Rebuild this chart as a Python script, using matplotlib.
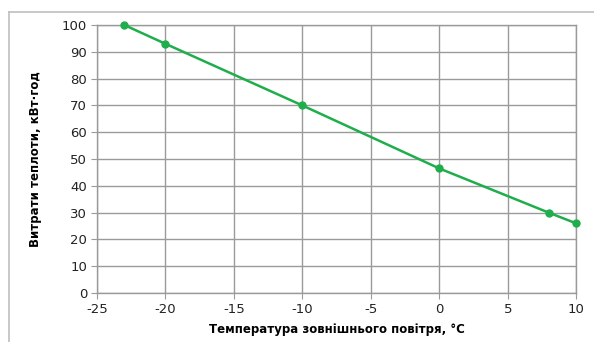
import matplotlib
matplotlib.use("Agg")
import matplotlib.pyplot as plt
from matplotlib.lines import Line2D

temperature = [-23, -20, -10, 0, 8, 10]
heat_use = [100, 93, 70, 46.5, 30, 26]
x_ticks = [-25, -20, -15, -10, -5, 0, 5, 10]
y_ticks = [0, 10, 20, 30, 40, 50, 60, 70, 80, 90, 100]
x_label = "Температура зовнішнього повітря, °C"
y_label = "Витрати теплоти, кВт·год"

fig = plt.figure(figsize=(5.94, 3.42), dpi=100)
ax = fig.add_axes([0.163, 0.143, 0.807, 0.784])

ax.plot(temperature, heat_use, color="#1fae4b", lw=1.8, marker="o", ms=5, zorder=3, clip_on=False)
ax.set_xlim(-25, 10)
ax.set_ylim(0, 100)
ax.set_xticks(x_ticks)
ax.set_yticks(y_ticks)
ax.set_xticklabels([str(v) for v in x_ticks])
ax.grid(True, color="#9a9a9a", lw=1.0)
for s in ax.spines.values():
    s.set_color("#9a9a9a")
    s.set_linewidth(1.0)
ax.tick_params(axis="both", length=4, color="#9a9a9a", labelsize=9.5, colors="#222222")
ax.tick_params(axis="x", pad=3)
ax.tick_params(axis="y", pad=3)
ax.set_xlabel(x_label, fontsize=8.5, fontweight="bold", labelpad=5)
ax.set_ylabel(y_label, fontsize=8.5, fontweight="bold", labelpad=14)

# outer frame lines
fig.add_artist(Line2D([9/594, 9/594], [0, 1 - 12/342], transform=fig.transFigure, color="#bfbfbf", lw=1.2))
fig.add_artist(Line2D([9/594, 1], [1 - 12/342, 1 - 12/342], transform=fig.transFigure, color="#bfbfbf", lw=1.2))

fig.savefig("out.png", dpi=100)
